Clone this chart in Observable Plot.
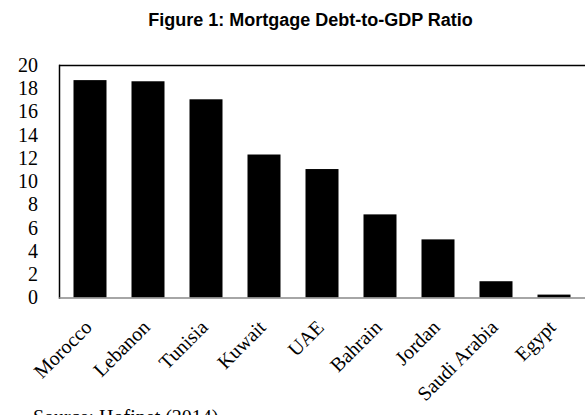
<!DOCTYPE html>
<html>
<head>
<meta charset="utf-8">
<script src="https://cdn.jsdelivr.net/npm/d3@7"></script>
<script src="https://cdn.jsdelivr.net/npm/@observablehq/plot@0.6"></script>
<style>
  html, body { margin: 0; padding: 0; background: #fff; }
  #wrap { width: 585px; height: 415px; overflow: hidden; position: relative; }
  #title { font-family: "Liberation Sans", Arial, sans-serif; font-weight: bold; font-size: 18px; line-height: 20px;
           height: 40px; box-sizing: border-box; padding-top: 10px; padding-left: 36px; text-align: center; color: #000; }
  #caption { position: absolute; left: 33px; top: 407px; font-family: "Liberation Serif", "Times New Roman", serif;
             font-size: 20px; line-height: 20px; color: #000; white-space: nowrap; }
  svg { display: block; }
</style>
</head>
<body>
<div id="wrap">
  <div id="title">Figure 1: Mortgage Debt-to-GDP Ratio</div>
  <div id="chart"></div>
  <div id="caption">Source: Hofinet (2014)</div>
</div>
<script>
const countries = ["Morocco", "Lebanon", "Tunisia", "Kuwait", "UAE", "Bahrain", "Jordan", "Saudi Arabia", "Egypt"];
const ratios = [18.7, 18.6, 17.05, 12.3, 11.05, 7.15, 5.0, 1.4, 0.25];
const yTicks = [0, 2, 4, 6, 8, 10, 12, 14, 16, 18, 20];

const data = countries.map((c, i) => ({country: c, value: ratios[i]}));
const serif = "'Liberation Serif', 'Times New Roman', serif";

const chart = Plot.plot({
  width: 585,
  height: 375,
  marginTop: 25,
  marginBottom: 117.5,
  marginLeft: 59,
  marginRight: 0,
  style: {fontFamily: serif, fontSize: "20px", color: "#000", background: "transparent"},
  x: {domain: countries, padding: 0, axis: null},
  y: {domain: [0, 20], axis: null},
  marks: [
    Plot.barY(data, {x: "country", y: "value", fill: "#000", insetLeft: 12.5, insetRight: 12.5}),
    Plot.ruleY([20], {stroke: "#000", strokeWidth: 1.5}),
    Plot.frame({anchor: "left", stroke: "#000", strokeWidth: 1.5}),
    Plot.ruleY([0], {stroke: "#888", strokeWidth: 1.5}),
    Plot.axisY(yTicks, {tickSize: 0, tickPadding: 21.5, fontSize: 20, fontFamily: serif, fill: "#000", label: null}),
    Plot.text(countries, {x: (d) => d, frameAnchor: "bottom", dy: 26, dx: -2, rotate: -45,
      textAnchor: "end", lineAnchor: "middle", fontSize: 20, fontFamily: serif, fill: "#000"})
  ]
});
document.getElementById("chart").appendChild(chart);
</script>
</body>
</html>
